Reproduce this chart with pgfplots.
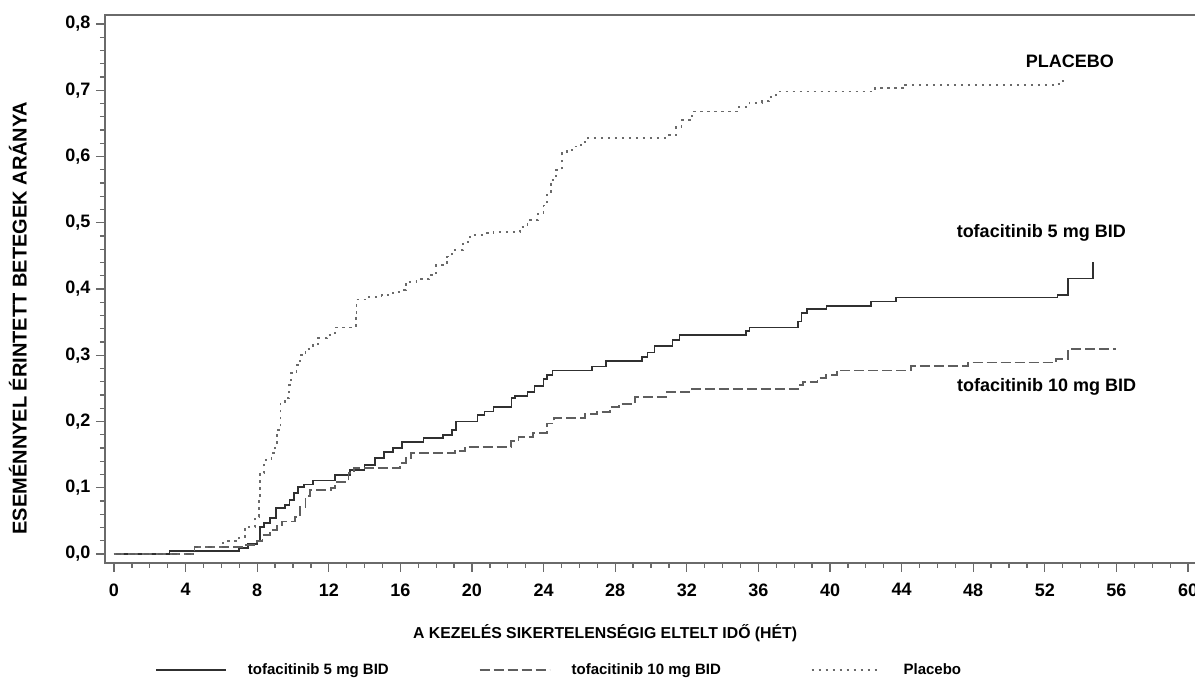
\documentclass[border=0pt]{standalone}
\usepackage{fontspec}
\setmainfont{Liberation Sans}
\usepackage{pgfplots}
\pgfplotsset{compat=1.18}

\definecolor{axisgray}{HTML}{6A6A6A}
\definecolor{fivemg}{HTML}{303030}
\definecolor{tenmg}{HTML}{5E5E5E}
\definecolor{placebo}{HTML}{6A6A6A}

\newcommand{\lblfont}{\bfseries\fontsize{18}{21}\selectfont}
\newcommand{\ylblfont}{\bfseries\fontsize{20}{23}\selectfont}
\newcommand{\xlblfont}{\bfseries\fontsize{15.8}{19}\selectfont}
\newcommand{\legfont}{\bfseries\fontsize{15}{18}\selectfont}

\begin{document}
\begin{tikzpicture}
\begin{axis}[
  name=ax, anchor=south west, at={(0pt,0pt)},
  scale only axis, width=1092pt, height=548pt,
  xmin=-0.5, xmax=60.5, ymin=-0.0136, ymax=0.8136,
  axis line style={draw=axisgray, line width=1.7pt},
  tick pos=left, tick align=outside,
  major tick length=9pt, minor tick length=5pt,
  every tick/.style={draw=axisgray, line width=1.3pt},
  xtick={0,4,8,12,16,20,24,28,32,36,40,44,48,52,56,60},
  minor x tick num=3,
  ytick={0,0.1,0.2,0.3,0.4,0.5,0.6,0.7,0.8},
  yticklabels={{0,0},{0,1},{0,2},{0,3},{0,4},{0,5},{0,6},{0,7},{0,8}},
  minor y tick num=4,
  /pgf/number format/assume math mode=true,
  tick label style={font=\lblfont},
  xticklabel style={yshift=-8pt},
  yticklabel style={xshift=-2pt},
  xlabel={A KEZELÉS SIKERTELENSÉGIG ELTELT IDŐ (HÉT)},
  xlabel style={font=\xlblfont, at={(axis description cs:0.458,-0.128)}, anchor=center},
  ylabel={ESEMÉNNYEL ÉRINTETT BETEGEK ARÁNYA},
  ylabel style={font=\ylblfont, at={(axis description cs:-0.0797,0.447)}, anchor=center, rotate=0},
  legend columns=3,
  legend cell align=left,
  legend style={at={(axis description cs:0.0458,-0.195)}, anchor=west,
    draw=none, fill=none, inner sep=0pt, font=\legfont,
    /tikz/every odd column/.append style={column sep=19pt},
    /tikz/every even column/.append style={column sep=88pt}},
  legend image code/.code={\draw[#1] (0pt,0pt) -- (70pt,0pt);},
]
% tofacitinib 5 mg BID
\addplot[const plot, color=fivemg, line width=1.7pt] coordinates {
(0,0) (3.1,0.004) (7.0,0.009) (7.5,0.015) (8.0,0.019) (8.15,0.041) (8.4,0.047)
(8.7,0.054) (9.05,0.069) (9.55,0.074) (9.8,0.081) (10.05,0.092) (10.3,0.101)
(10.6,0.105) (11.1,0.111) (12.35,0.119) (13.2,0.127) (14.0,0.134) (14.6,0.145)
(15.1,0.154) (15.6,0.16) (16.1,0.169) (17.3,0.175) (18.4,0.18) (18.9,0.187)
(19.1,0.2) (20.3,0.21) (20.7,0.215) (21.2,0.222) (22.2,0.235) (22.4,0.238)
(23.1,0.245) (23.5,0.254) (24.0,0.264) (24.2,0.27) (24.5,0.277) (26.7,0.283)
(27.5,0.291) (29.5,0.297) (29.8,0.304) (30.2,0.314) (31.2,0.323) (31.6,0.331)
(35.3,0.337) (35.5,0.342) (38.2,0.351) (38.4,0.364) (38.7,0.37) (39.8,0.374)
(42.3,0.381) (43.7,0.387) (52.7,0.391) (53.3,0.416) (54.7,0.441)
};
\addlegendentry{tofacitinib 5 mg BID}
% tofacitinib 10 mg BID
\addplot[const plot, color=tenmg, line width=1.9pt, dash pattern=on 10pt off 4pt] coordinates {
(0,0) (4.5,0.01) (7.4,0.0135) (8.0,0.019) (8.3,0.029) (8.7,0.036) (9.1,0.044)
(9.4,0.049) (10.1,0.056) (10.4,0.071) (10.7,0.087) (10.95,0.096) (12.1,0.1)
(12.35,0.108) (13.1,0.122) (13.4,0.13) (16.0,0.137) (16.3,0.145) (16.6,0.152)
(19.05,0.155) (19.6,0.162) (22.2,0.17) (22.6,0.177) (23.4,0.182) (24.2,0.197)
(24.6,0.205) (26.3,0.211) (27.0,0.215) (27.7,0.222) (28.2,0.227) (29.1,0.237)
(30.9,0.244) (32.3,0.249) (38.2,0.255) (38.5,0.26) (39.3,0.266) (39.8,0.27)
(40.4,0.277) (44.5,0.284) (47.7,0.289) (52.6,0.295) (53.3,0.309) (56.0,0.309)
};
\addlegendentry{tofacitinib 10 mg BID}
% placebo
\addplot[const plot, color=placebo, line width=1.8pt, dash pattern=on 2.5pt off 4.5pt] coordinates {
(0,0) (4.5,0.01) (6.1,0.019) (7.0,0.026) (7.3,0.041) (7.9,0.056) (8.1,0.087)
(8.15,0.122) (8.4,0.142) (8.8,0.152) (9.0,0.167) (9.1,0.187) (9.3,0.227)
(9.55,0.235) (9.8,0.255) (9.9,0.273) (10.2,0.285) (10.4,0.3) (10.7,0.31)
(11.1,0.315) (11.4,0.326) (11.9,0.331) (12.35,0.342) (13.5,0.358) (13.55,0.384)
(14.1,0.388) (14.95,0.391) (15.6,0.396) (16.1,0.398) (16.3,0.411) (16.9,0.415)
(17.6,0.421) (18.0,0.436) (18.6,0.449) (18.9,0.459) (19.5,0.471) (19.9,0.482)
(20.8,0.484) (21.2,0.486) (22.7,0.494) (23.1,0.504) (23.7,0.514) (24.0,0.526)
(24.2,0.544) (24.4,0.565) (24.7,0.58) (25.05,0.605) (25.3,0.61) (25.7,0.615)
(26.1,0.622) (26.5,0.628) (30.9,0.632) (31.4,0.645) (31.7,0.655) (32.3,0.668)
(34.9,0.675) (35.5,0.681) (36.2,0.684) (36.6,0.69) (37.0,0.698) (42.5,0.703)
(44.2,0.708) (52.6,0.71) (52.9,0.714) (53.1,0.714)
};
\addlegendentry{Placebo}
% curve labels
\node[font=\lblfont] at (axis cs:53.4,0.743) {PLACEBO};
\node[font=\lblfont] at (axis cs:51.8,0.4845) {tofacitinib 5 mg BID};
\node[font=\lblfont] at (axis cs:52.1,0.252) {tofacitinib 10 mg BID};
\end{axis}
\pgfresetboundingbox
\path[use as bounding box] (-105pt,-121pt) rectangle (1090pt,563pt);
\end{tikzpicture}
\end{document}
